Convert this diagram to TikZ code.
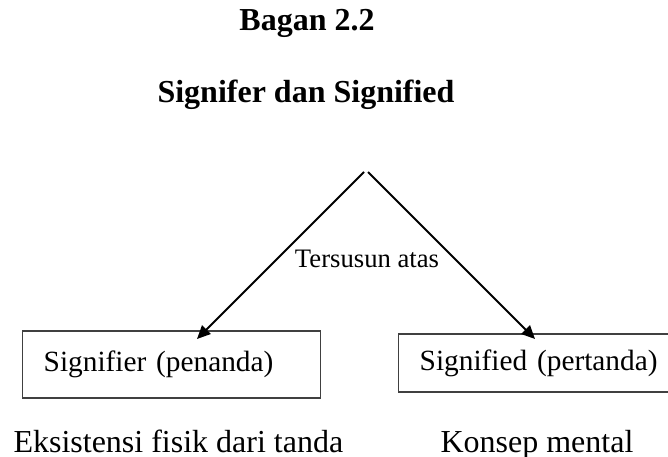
\documentclass[tikz,border=0pt]{standalone}
\usepackage{fontspec}
\setmainfont{Liberation Serif}
\usetikzlibrary{arrows.meta}
\tikzset{
  judul/.style={font=\fontsize{12}{14}\selectfont\bfseries, anchor=base, inner sep=0pt},
  kotak/.style={draw=black!75, line width=0.5pt, anchor=west, inner xsep=7.9pt,
    align=left, font=\fontsize{11}{13}\selectfont},
  ket/.style={font=\fontsize{12}{14}\selectfont, anchor=base west, inner sep=0pt},
  panah/.style={line width=0.75pt, -{Triangle[length=5pt,width=4.5pt]}}
}
\begin{document}
\begin{tikzpicture}[x=0.375pt,y=-0.375pt]
\useasboundingbox (0,0) rectangle (668,457);
\node[judul] (bagan) at (307,31) {Bagan 2.2};
\node[judul] (judul) at (306,103) {Signifer dan Signified};
\coordinate (puncakkiri) at (364,172);
\coordinate (puncakkanan) at (368,172);
\node[kotak, minimum height=25.1pt, text width=96pt] (penanda) at (22,364.5) {Signifier (penanda)};
\node[kotak, minimum height=21.75pt, text width=100pt] (pertanda) at (398,363) {Signified (pertanda)};
\coordinate (ujungkiri) at (197,339);
\coordinate (ujungkanan) at (535,339);
\draw[panah] (puncakkiri) -- (ujungkiri);
\draw[panah] (puncakkanan) -- (ujungkanan);
\node[font=\fontsize{10}{12}\selectfont, anchor=base, inner sep=0pt] (tersusun) at (367,268) {Tersusun atas};
\node[ket] (fisik) at (13,452) {Eksistensi fisik dari tanda};
\node[ket] (mental) at (440,452) {Konsep mental};
\end{tikzpicture}
\end{document}
